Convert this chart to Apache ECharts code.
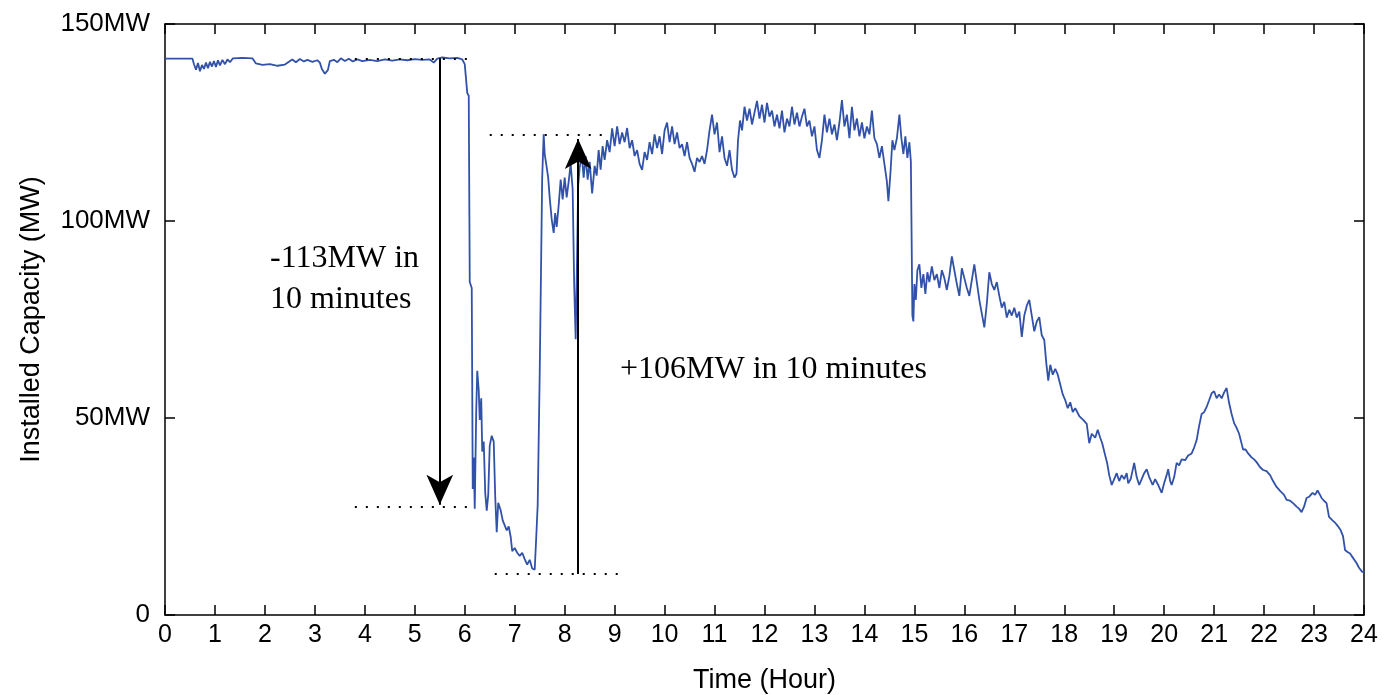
<!DOCTYPE html>
<html>
<head>
<meta charset="utf-8">
<title>Installed Capacity</title>
<script src="https://cdn.jsdelivr.net/npm/echarts@6/dist/echarts.min.js"></script>
<style>
html, body { margin: 0; padding: 0; background: #fff; }
#chartContainer { width: 1391px; height: 695px; }
</style>
</head>
<body>
<div id="chartContainer"></div>
<script>
// 读图得到的数据 [小时, MW]
var capacity = [
	[0,141.2],[0.2,141.2],[0.4,141.2],[0.55,141.2],[0.58,139.8],[0.62,138.4],[0.66,140.1],[0.7,138],
	[0.74,139.6],[0.78,138.6],[0.82,140.2],[0.86,138.8],[0.9,140.4],[0.94,139.2],[0.98,140.6],[1.02,139.1],
	[1.06,140.8],[1.1,139.5],[1.15,140.9],[1.2,139.8],[1.25,141.0],[1.3,140.3],[1.36,141.3],[1.55,141.4],
	[1.75,141.3],[1.82,140.0],[1.95,139.6],[2.1,139.8],[2.25,139.4],[2.4,139.7],[2.48,140.4],[2.55,141.0],
	[2.62,140.3],[2.7,141.1],[2.78,140.5],[2.85,140.9],[2.95,140.4],[3.05,140.8],[3.1,140.2],[3.14,138.6],
	[3.2,137.4],[3.26,138.3],[3.3,140.6],[3.38,140.9],[3.45,140.3],[3.52,141.3],[3.6,140.6],[3.68,141.2],
	[3.76,140.5],[3.85,141.0],[3.95,140.6],[4.1,140.9],[4.25,140.6],[4.4,141.0],[4.55,140.7],[4.7,141.0],
	[4.85,140.8],[5.0,141.1],[5.15,140.9],[5.3,141.0],[5.38,140.2],[5.45,141.2],[5.55,141.5],[5.7,141.3],
	[5.85,141.4],[5.95,141.0],[6.0,139.8],[6.03,140.3],[6.05,132.5],[6.08,131.8],[6.1,84.5],[6.14,83.0],
	[6.16,32.0],[6.18,40.0],[6.2,27.0],[6.23,52.0],[6.25,62.0],[6.28,57.0],[6.3,49.5],[6.33,55.0],
	[6.35,41.5],[6.38,44.0],[6.41,31.0],[6.44,26.5],[6.47,30.5],[6.5,43.0],[6.54,45.5],[6.58,44.0],
	[6.61,30.0],[6.64,21.0],[6.67,28.5],[6.72,26.5],[6.76,24.0],[6.8,24.5],[6.84,21.5],[6.88,22.5],
	[6.92,19.8],[6.95,16.2],[7.0,17.0],[7.05,15.8],[7.1,15.0],[7.15,15.8],[7.2,14.2],[7.25,12.8],
	[7.3,14.0],[7.35,11.8],[7.4,11.5],[7.43,19.5],[7.46,28.0],[7.5,61.0],[7.55,111.0],[7.58,122.0],
	[7.6,117.0],[7.63,114.5],[7.67,111.0],[7.7,106.0],[7.74,100.5],[7.78,97.0],[7.81,102.0],[7.84,98.5],
	[7.88,104.0],[7.92,110.5],[7.96,105.5],[8.0,111.0],[8.04,106.0],[8.08,110.0],[8.12,114.5],[8.16,108.0],
	[8.19,84.0],[8.22,70.0],[8.25,92.0],[8.27,109.0],[8.3,113.5],[8.34,117.0],[8.38,111.0],[8.42,116.5],
	[8.46,110.5],[8.5,115.0],[8.55,107.0],[8.6,114.0],[8.64,111.5],[8.68,118.0],[8.72,113.0],[8.76,119.0],
	[8.8,115.5],[8.85,120.5],[8.9,117.5],[8.95,123.5],[9.0,119.0],[9.05,124.0],[9.1,119.5],[9.15,122.5],
	[9.2,120.0],[9.25,123.6],[9.3,118.5],[9.35,120.5],[9.4,116.5],[9.45,118.0],[9.5,114.5],[9.55,113.0],
	[9.6,117.5],[9.65,115.5],[9.7,120.0],[9.75,117.0],[9.8,122.0],[9.85,118.5],[9.9,121.5],[9.95,117.0],
	[10.0,123.0],[10.05,125.0],[10.1,120.0],[10.15,124.0],[10.2,119.5],[10.25,122.5],[10.3,118.5],[10.35,119.5],
	[10.4,116.5],[10.45,120.0],[10.5,116.0],[10.55,114.5],[10.6,112.5],[10.65,116.0],[10.7,115.0],[10.75,116.5],
	[10.8,114.5],[10.85,118.0],[10.9,123.0],[10.95,127.0],[11.0,122.0],[11.05,125.0],[11.1,117.5],[11.15,121.5],
	[11.2,116.0],[11.25,114.0],[11.3,118.0],[11.35,113.0],[11.4,111.0],[11.44,112.0],[11.47,120.5],[11.51,125.5],
	[11.55,123.0],[11.6,129.0],[11.65,125.5],[11.7,128.5],[11.75,124.5],[11.8,127.5],[11.85,130.5],[11.9,126.0],
	[11.95,129.5],[12.0,125.0],[12.05,130.0],[12.1,126.5],[12.15,128.0],[12.2,124.0],[12.25,127.0],[12.3,123.5],
	[12.35,128.0],[12.4,122.5],[12.45,126.0],[12.5,124.0],[12.55,129.0],[12.6,124.5],[12.65,127.5],[12.7,124.0],
	[12.75,126.5],[12.8,128.5],[12.85,124.0],[12.9,125.5],[12.95,121.5],[13.0,124.0],[13.05,118.0],[13.1,116.0],
	[13.15,120.5],[13.2,127.0],[13.25,122.5],[13.3,126.0],[13.35,122.0],[13.4,124.5],[13.45,120.5],[13.5,125.0],
	[13.55,130.7],[13.6,124.0],[13.65,127.0],[13.7,121.0],[13.75,129.0],[13.8,123.0],[13.85,126.0],[13.9,121.5],
	[13.95,125.0],[14.0,121.0],[14.05,124.0],[14.1,122.0],[14.15,128.0],[14.2,121.0],[14.25,119.5],[14.3,116.0],
	[14.35,119.0],[14.4,114.5],[14.45,110.0],[14.48,105.0],[14.52,112.0],[14.56,120.5],[14.6,118.0],[14.65,121.0],
	[14.7,127.0],[14.74,121.0],[14.78,117.0],[14.82,121.5],[14.86,116.0],[14.9,120.0],[14.93,115.0],[14.96,76.0],
	[14.98,74.5],[15.0,84.0],[15.03,80.0],[15.06,87.5],[15.1,89.0],[15.14,83.0],[15.18,86.5],[15.22,81.5],
	[15.26,87.0],[15.3,84.5],[15.35,88.5],[15.4,85.0],[15.45,86.5],[15.5,83.0],[15.55,87.5],[15.6,85.5],
	[15.65,82.5],[15.7,86.0],[15.75,91.0],[15.8,87.5],[15.85,84.0],[15.9,81.0],[15.95,88.0],[16.0,85.5],
	[16.05,83.0],[16.1,81.0],[16.15,85.0],[16.2,89.0],[16.25,84.5],[16.3,80.0],[16.35,76.5],[16.4,73.0],
	[16.45,79.0],[16.5,87.0],[16.55,84.0],[16.6,82.5],[16.65,84.5],[16.7,81.0],[16.75,78.0],[16.8,79.5],
	[16.85,75.5],[16.9,77.5],[16.95,76.0],[17.0,78.0],[17.05,75.5],[17.1,77.0],[17.15,70.6],[17.2,76.0],
	[17.25,78.5],[17.3,80.0],[17.35,76.0],[17.4,72.0],[17.45,74.5],[17.5,75.6],[17.55,71.0],[17.6,69.8],
	[17.64,64.0],[17.68,59.5],[17.72,63.5],[17.77,61.0],[17.82,62.5],[17.87,61.0],[17.92,58.5],[17.97,56.0],
	[18.02,54.5],[18.07,52.5],[18.12,54.0],[18.17,51.5],[18.22,52.5],[18.3,50.5],[18.38,49.5],[18.45,48.5],
	[18.5,43.6],[18.55,46.0],[18.62,45.0],[18.67,47.0],[18.72,45.0],[18.76,43.6],[18.82,40.5],[18.86,38.5],
	[18.9,35.5],[18.95,33.0],[19.0,34.5],[19.05,36.0],[19.1,34.0],[19.15,35.5],[19.2,34.5],[19.25,36.0],
	[19.28,33.4],[19.33,34.5],[19.4,38.6],[19.45,35.0],[19.5,33.0],[19.55,34.5],[19.6,36.0],[19.65,37.0],
	[19.7,35.0],[19.77,33.0],[19.82,34.5],[19.88,33.0],[19.95,31.0],[20.0,33.5],[20.05,35.5],[20.08,37.0],
	[20.12,34.0],[20.15,33.0],[20.2,35.0],[20.25,38.6],[20.3,38.0],[20.35,39.5],[20.42,39.3],[20.48,40.5],
	[20.55,41.0],[20.6,42.5],[20.65,44.4],[20.7,48.0],[20.75,51.0],[20.8,51.5],[20.85,52.8],[20.9,54.5],
	[20.95,56.3],[21.0,56.8],[21.05,55.0],[21.1,56.0],[21.15,55.0],[21.2,56.5],[21.25,57.6],[21.3,53.8],
	[21.35,51.0],[21.4,48.7],[21.45,47.5],[21.5,46.0],[21.55,43.5],[21.58,42.0],[21.63,42.0],[21.68,41.0],
	[21.75,40.0],[21.8,39.5],[21.85,38.8],[21.92,37.5],[21.98,36.8],[22.05,36.5],[22.12,35.5],[22.18,34.0],
	[22.25,32.5],[22.32,31.5],[22.4,30.5],[22.45,29.2],[22.52,29.0],[22.58,28.4],[22.65,27.5],[22.7,27.0],
	[22.75,26.1],[22.8,27.5],[22.85,29.7],[22.9,30.0],[22.97,31.0],[23.02,30.5],[23.07,31.6],[23.12,30.5],
	[23.15,29.7],[23.2,29.0],[23.25,28.4],[23.3,24.9],[23.37,24.0],[23.43,23.3],[23.48,22.5],[23.53,21.6],
	[23.58,20.0],[23.62,16.5],[23.67,16.0],[23.72,15.6],[23.78,14.5],[23.85,13.2],[23.9,12.0],[23.96,11.0],
	[24.0,10.8]
];

// 虚线参考线 [起点小时, 终点小时, MW]
var dottedLines = [
	[3.8, 6.1, 141.3],
	[3.8, 6.1, 27.5],
	[6.5, 8.9, 121.8],
	[6.6, 9.1, 10.4]
];

// 箭头 [小时, 起点MW, 终点MW]
var arrows = [
	[5.5, 141.3, 28.0],
	[8.27, 10.4, 120.8]
];

var yTickLabels = ['0', '50MW', '100MW', '150MW'];

var capacityChart = {
	/**
	 * 组装markLine数据
	 */
	buildMarkLines : function() {
		var lines = [];
		for (var i = 0; i < dottedLines.length; i++) {
			var d = dottedLines[i];
			lines.push([
				{coord: [d[0], d[2]], symbol: 'none', lineStyle: {type: [2, 9], width: 2, color: '#000'}},
				{coord: [d[1], d[2]], symbol: 'none'}
			]);
		}
		for (var j = 0; j < arrows.length; j++) {
			var a = arrows[j];
			lines.push([
				{coord: [a[0], a[1]], symbol: 'none', lineStyle: {type: 'solid', width: 2, color: '#000'}},
				{coord: [a[0], a[2]], symbol: 'arrow', symbolSize: [20, 30]}
			]);
		}
		return lines;
	},
	/**
	 * 显示图表
	 */
	showChart : function() {
		var myChart = echarts.init(document.getElementById('chartContainer'));
		var axisFont = 'Liberation Sans';
		var tickStyle = {inside: true, length: 10, lineStyle: {color: '#000', width: 1.5}};
		var lineStyle = {onZero: false, lineStyle: {color: '#000', width: 1.5}};
		var option = {
			animation: false,
			backgroundColor: '#fff',
			grid: {left: 165, right: 27, top: 24, bottom: 80, outerBoundsMode: 'none'},
			xAxis: [
				{
					type: 'value', min: 0, max: 24, interval: 1,
					axisLine: lineStyle, axisTick: tickStyle, splitLine: {show: false},
					axisLabel: {color: '#000', fontSize: 25, fontFamily: axisFont, margin: 8},
					name: 'Time (Hour)', nameLocation: 'middle', nameGap: 52,
					nameTextStyle: {color: '#000', fontSize: 27, fontFamily: axisFont}
				},
				{
					type: 'value', position: 'top', min: 0, max: 24, interval: 1,
					axisLine: lineStyle, axisTick: tickStyle, splitLine: {show: false},
					axisLabel: {show: false}
				}
			],
			yAxis: [
				{
					type: 'value', min: 0, max: 150, interval: 50,
					axisLine: lineStyle, axisTick: tickStyle, splitLine: {show: false},
					axisLabel: {
						color: '#000', fontSize: 26, fontFamily: axisFont, margin: 15,
						formatter: function(v) { return yTickLabels[v / 50]; }
					},
					name: 'Installed Capacity (MW)', nameLocation: 'middle', nameGap: 120,
					nameTextStyle: {color: '#000', fontSize: 27, fontFamily: axisFont}
				},
				{
					type: 'value', position: 'right', min: 0, max: 150, interval: 50,
					axisLine: lineStyle, axisTick: tickStyle, splitLine: {show: false},
					axisLabel: {show: false}
				}
			],
			graphic: [
				{type: 'text', left: 270, top: 243, style: {text: '-113MW in', font: '32px "Liberation Serif"', fill: '#000'}},
				{type: 'text', left: 270, top: 284, style: {text: '10 minutes', font: '32px "Liberation Serif"', fill: '#000'}},
				{type: 'text', left: 620, top: 354, style: {text: '+106MW in 10 minutes', font: '32px "Liberation Serif"', fill: '#000'}}
			],
			series: [
				{
					name: 'Installed Capacity',
					type: 'line',
					data: capacity,
					showSymbol: false,
					lineStyle: {color: '#3152a8', width: 1.8},
					markLine: {
						silent: true,
						animation: false,
						label: {show: false},
						data: capacityChart.buildMarkLines()
					}
				}
			]
		};
		myChart.setOption(option);
	}
};

capacityChart.showChart();
</script>
</body>
</html>
